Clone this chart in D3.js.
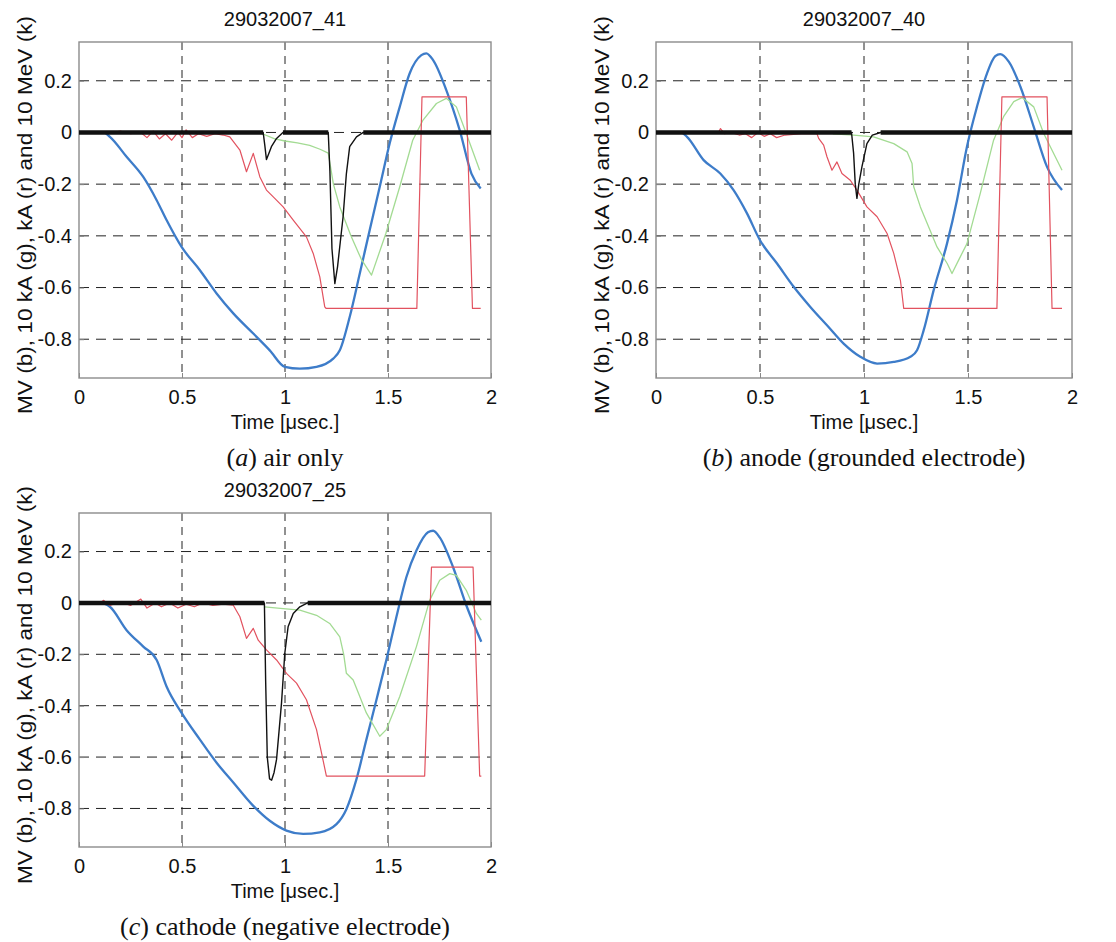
<!DOCTYPE html>
<html>
<head>
<meta charset="utf-8">
<script src="https://cdn.jsdelivr.net/npm/d3@7"></script>
<style>
  body { margin: 0; background: #fff; }
  svg text { font-family: Arial, 'Liberation Sans', Helvetica, sans-serif; fill: #111; }
  svg text.caption { font-family: 'Liberation Serif', 'Times New Roman', serif; }
</style>
</head>
<body>
<svg id="chart" width="1116" height="942"></svg>
<script>
const xTicks = [0, 0.5, 1, 1.5, 2]
const yTicks = [0.2, 0, -0.2, -0.4, -0.6, -0.8]
const yLabel = 'MV (b), 10 kA (g), kA (r) and 10 MeV (k)'
const xLabel = 'Time [\u03bcsec.]'
const titles = ['29032007_41', '29032007_40', '29032007_25']
const captionLetters = ['a', 'b', 'c']
const captionTexts = ['air only', 'anode (grounded electrode)', 'cathode (negative electrode)']

// (a) air only : [time usec, value]
const blueA = [[0,0],[0.12,0],[0.15,-0.017],[0.231,-0.094],[0.312,-0.172],[0.377,-0.262],[0.425,-0.339],[0.498,-0.443],[0.587,-0.533],[0.668,-0.623],[0.749,-0.70],[0.846,-0.778],[0.926,-0.843],[0.999,-0.907],[1.072,-0.914],[1.153,-0.907],[1.234,-0.875],[1.266,-0.843],[1.314,-0.714],[1.363,-0.546],[1.411,-0.378],[1.46,-0.21],[1.508,-0.043],[1.557,0.099],[1.605,0.228],[1.662,0.299],[1.686,0.306],[1.719,0.28],[1.783,0.164],[1.848,0.009],[1.905,-0.159],[1.95,-0.217]]
const greenA = [[0.89,-0.005],[0.95,-0.025],[1.0,-0.033],[1.06,-0.04],[1.12,-0.05],[1.17,-0.065],[1.21,-0.08],[1.235,-0.2],[1.266,-0.288],[1.32,-0.4],[1.37,-0.49],[1.42,-0.552],[1.49,-0.39],[1.557,-0.21],[1.62,-0.03],[1.67,0.048],[1.735,0.112],[1.783,0.132],[1.832,0.099],[1.88,-0.004],[1.945,-0.146]]
const redA = [[0.17,0],[0.2,0.005],[0.25,-0.005],[0.3,0],[0.33,-0.02],[0.36,0.005],[0.39,-0.025],[0.42,-0.005],[0.45,-0.03],[0.48,0],[0.5,-0.02],[0.52,0.01],[0.55,-0.02],[0.58,-0.005],[0.62,-0.015],[0.66,-0.005],[0.7,-0.01],[0.732,-0.017],[0.781,-0.068],[0.813,-0.152],[0.846,-0.081],[0.878,-0.172],[0.91,-0.223],[0.943,-0.249],[0.991,-0.288],[1.04,-0.339],[1.104,-0.404],[1.137,-0.468],[1.169,-0.559],[1.193,-0.675],[1.2,-0.681],[1.64,-0.681],[1.665,0.138],[1.88,0.138],[1.91,-0.681],[1.95,-0.681]]
const blackA = [[0,0],[0.894,0],[0.902,-0.05],[0.91,-0.105],[0.922,-0.08],[0.934,-0.055],[0.959,-0.023],[0.99,0],[1.21,0],[1.218,-0.15],[1.228,-0.45],[1.242,-0.585],[1.255,-0.52],[1.282,-0.326],[1.298,-0.159],[1.314,-0.055],[1.347,-0.017],[1.38,0],[2,0]]

// (b) anode
const blueB = [[0,0],[0.12,0],[0.149,-0.017],[0.229,-0.107],[0.309,-0.159],[0.373,-0.223],[0.4375,-0.313],[0.5,-0.417],[0.582,-0.507],[0.662,-0.597],[0.742,-0.675],[0.822,-0.746],[0.902,-0.817],[0.982,-0.868],[1.063,-0.894],[1.143,-0.888],[1.223,-0.868],[1.255,-0.843],[1.287,-0.765],[1.335,-0.61],[1.399,-0.43],[1.447,-0.262],[1.495,-0.055],[1.543,0.099],[1.591,0.228],[1.631,0.295],[1.655,0.303],[1.696,0.274],[1.752,0.177],[1.816,0.022],[1.88,-0.133],[1.952,-0.223]]
const greenB = [[0.85,-0.005],[0.95,-0.01],[1.046,-0.017],[1.143,-0.043],[1.207,-0.075],[1.231,-0.12],[1.239,-0.21],[1.271,-0.288],[1.351,-0.443],[1.4,-0.507],[1.423,-0.546],[1.455,-0.494],[1.495,-0.43],[1.559,-0.236],[1.623,-0.03],[1.671,0.061],[1.72,0.119],[1.76,0.135],[1.816,0.099],[1.864,-0.004],[1.952,-0.146]]
const redB = [[0.3,0],[0.31,0.015],[0.33,-0.005],[0.36,0],[0.4,-0.01],[0.43,-0.005],[0.46,-0.02],[0.49,0],[0.52,-0.015],[0.55,-0.005],[0.58,-0.02],[0.62,-0.01],[0.7,-0.005],[0.774,-0.005],[0.782,-0.023],[0.806,-0.049],[0.822,-0.094],[0.846,-0.146],[0.87,-0.114],[0.894,-0.159],[0.934,-0.185],[0.966,-0.223],[1.014,-0.288],[1.063,-0.326],[1.111,-0.391],[1.143,-0.468],[1.175,-0.572],[1.191,-0.681],[1.639,-0.681],[1.663,0.138],[1.88,0.138],[1.904,-0.681],[1.952,-0.681]]
const blackB = [[0,0],[0.94,0],[0.95,-0.08],[0.958,-0.2],[0.966,-0.255],[0.975,-0.2],[0.99,-0.133],[1.014,-0.043],[1.04,-0.01],[1.08,0],[2,0]]

// (c) cathode
const blueC = [[0,0],[0.102,0],[0.15,-0.015],[0.231,-0.106],[0.312,-0.17],[0.377,-0.222],[0.425,-0.325],[0.498,-0.428],[0.587,-0.532],[0.668,-0.622],[0.749,-0.699],[0.846,-0.79],[0.926,-0.848],[1.007,-0.886],[1.088,-0.899],[1.169,-0.893],[1.25,-0.861],[1.298,-0.803],[1.347,-0.686],[1.395,-0.532],[1.444,-0.377],[1.492,-0.222],[1.541,-0.054],[1.589,0.1],[1.638,0.204],[1.694,0.275],[1.719,0.281],[1.751,0.255],[1.816,0.139],[1.88,-0.009],[1.953,-0.151]]
const greenC = [[0.9,-0.015],[0.991,-0.022],[1.072,-0.028],[1.153,-0.048],[1.217,-0.08],[1.266,-0.132],[1.285,-0.2],[1.298,-0.274],[1.331,-0.3],[1.395,-0.428],[1.46,-0.519],[1.492,-0.493],[1.557,-0.364],[1.638,-0.17],[1.702,0.01],[1.751,0.088],[1.8,0.114],[1.832,0.107],[1.88,0.049],[1.929,-0.041],[1.953,-0.067]]
const redC = [[0.1,0],[0.12,0.01],[0.15,-0.01],[0.2,0.005],[0.25,-0.01],[0.3,0.015],[0.33,-0.02],[0.37,0],[0.4,-0.015],[0.44,0],[0.48,-0.02],[0.52,-0.005],[0.56,-0.015],[0.6,0],[0.65,-0.01],[0.7,-0.005],[0.749,-0.009],[0.781,-0.054],[0.813,-0.138],[0.846,-0.099],[0.87,-0.145],[0.91,-0.183],[0.959,-0.222],[1.007,-0.274],[1.056,-0.312],[1.104,-0.377],[1.153,-0.493],[1.177,-0.583],[1.201,-0.674],[1.678,-0.674],[1.711,0.139],[1.913,0.139],[1.945,-0.674],[1.953,-0.674]]
const blackC = [[0,0],[0.9,0],[0.906,-0.3],[0.914,-0.6],[0.925,-0.685],[0.935,-0.69],[0.947,-0.66],[0.959,-0.609],[0.971,-0.5],[0.983,-0.39],[0.999,-0.196],[1.015,-0.093],[1.04,-0.041],[1.072,-0.015],[1.11,0],[2,0]]

const xDomain = [0, 2]
const yDomain = [-0.95, 0.35]

const panels = [
  {title: titles[0], letter: captionLetters[0], caption: captionTexts[0], blue: blueA, green: greenA, red: redA, black: blackA, left: 79, top: 42, width: 412, height: 336},
  {title: titles[1], letter: captionLetters[1], caption: captionTexts[1], blue: blueB, green: greenB, red: redB, black: blackB, left: 656, top: 42, width: 416, height: 336},
  {title: titles[2], letter: captionLetters[2], caption: captionTexts[2], blue: blueC, green: greenC, red: redC, black: blackC, left: 79, top: 513, width: 412, height: 334}
]

const svg = d3.select('#chart')

panels.forEach(drawPanel)

function drawPanel(p) {
  let bottom = p.top + p.height, right = p.left + p.width
  let x = d3.scaleLinear().domain(xDomain).range([p.left, right])
  let y = d3.scaleLinear().domain(yDomain).range([bottom, p.top])
  let g = svg.append('g')

  // dashed grid
  g.selectAll('.vgrid').data(xTicks.slice(1, -1)).enter().append('line')
    .attr('x1', d => x(d)).attr('x2', d => x(d))
    .attr('y1', p.top).attr('y2', bottom)
    .attr('stroke', '#222').attr('stroke-width', 1)
    .attr('stroke-dasharray', '8,6')
  g.selectAll('.hgrid').data(yTicks).enter().append('line')
    .attr('x1', p.left).attr('x2', right)
    .attr('y1', d => y(d)).attr('y2', d => y(d))
    .attr('stroke', '#222').attr('stroke-width', 1)
    .attr('stroke-dasharray', '10,7')

  let xAxis = g.append('g').attr('transform', 'translate(0,' + bottom + ')')
    .call(d3.axisBottom(x).tickValues(xTicks).tickFormat(d => String(d))
      .tickSizeInner(-5).tickSizeOuter(0).tickPadding(12))
  let yAxis = g.append('g').attr('transform', 'translate(' + p.left + ',0)')
    .call(d3.axisLeft(y).tickValues(yTicks).tickFormat(d => String(d))
      .tickSizeInner(-5).tickSizeOuter(0).tickPadding(7))
  ;[xAxis, yAxis].forEach(a => {
    a.attr('font-family', null).attr('font-size', null)
    a.select('.domain').remove()
    a.selectAll('.tick line').attr('stroke', '#888')
    a.selectAll('.tick text').attr('font-size', 20).attr('fill', '#111')
  })

  g.append('rect')
    .attr('x', p.left).attr('y', p.top)
    .attr('width', p.width).attr('height', p.height)
    .attr('fill', 'none').attr('stroke', '#8c8c8c').attr('stroke-width', 1.4)

  let line = d3.line().x(d => x(d[0])).y(d => y(d[1]))
  let smooth = d3.line().curve(d3.curveMonotoneX).x(d => x(d[0])).y(d => y(d[1]))
  let flat = d3.line().defined(d => d[1] === 0).x(d => x(d[0])).y(d => y(d[1]))

  g.append('path').datum(p.blue).attr('d', smooth)
    .attr('fill', 'none').attr('stroke', '#3d7cc9').attr('stroke-width', 2.3).attr('stroke-linejoin', 'round')
  g.append('path').datum(p.green).attr('d', line)
    .attr('fill', 'none').attr('stroke', '#a3db93').attr('stroke-width', 1.3).attr('stroke-linejoin', 'round')
  g.append('path').datum(p.red).attr('d', line)
    .attr('fill', 'none').attr('stroke', '#e2525f').attr('stroke-width', 1.2).attr('stroke-linejoin', 'round')
  g.append('path').datum(p.black).attr('d', line)
    .attr('fill', 'none').attr('stroke', '#111').attr('stroke-width', 1.4).attr('stroke-linejoin', 'round')
  // noisy baseline band of the black trace
  g.append('path').datum(p.black).attr('d', flat)
    .attr('fill', 'none').attr('stroke', '#111').attr('stroke-width', 4.5)

  let cx = (p.left + right) / 2
  g.append('text').attr('x', cx).attr('y', p.top - 16)
    .attr('text-anchor', 'middle').attr('font-size', 20).text(p.title)
  g.append('text').attr('x', cx).attr('y', bottom + 51)
    .attr('text-anchor', 'middle').attr('font-size', 20).text(xLabel)
  g.append('text')
    .attr('transform', 'translate(' + (p.left - 54) + ',' + (p.top + p.height / 2 + 5) + ') rotate(-90)')
    .attr('text-anchor', 'middle').attr('dy', '0.35em').attr('font-size', 21)
    .attr('textLength', 398).attr('lengthAdjust', 'spacingAndGlyphs').text(yLabel)

  let cap = g.append('text').attr('class', 'caption')
    .attr('x', cx).attr('y', bottom + 88)
    .attr('text-anchor', 'middle').attr('font-size', 26)
  cap.append('tspan').text('(')
  cap.append('tspan').attr('font-style', 'italic').text(p.letter)
  cap.append('tspan').text(') ' + p.caption)
}
</script>
</body>
</html>
